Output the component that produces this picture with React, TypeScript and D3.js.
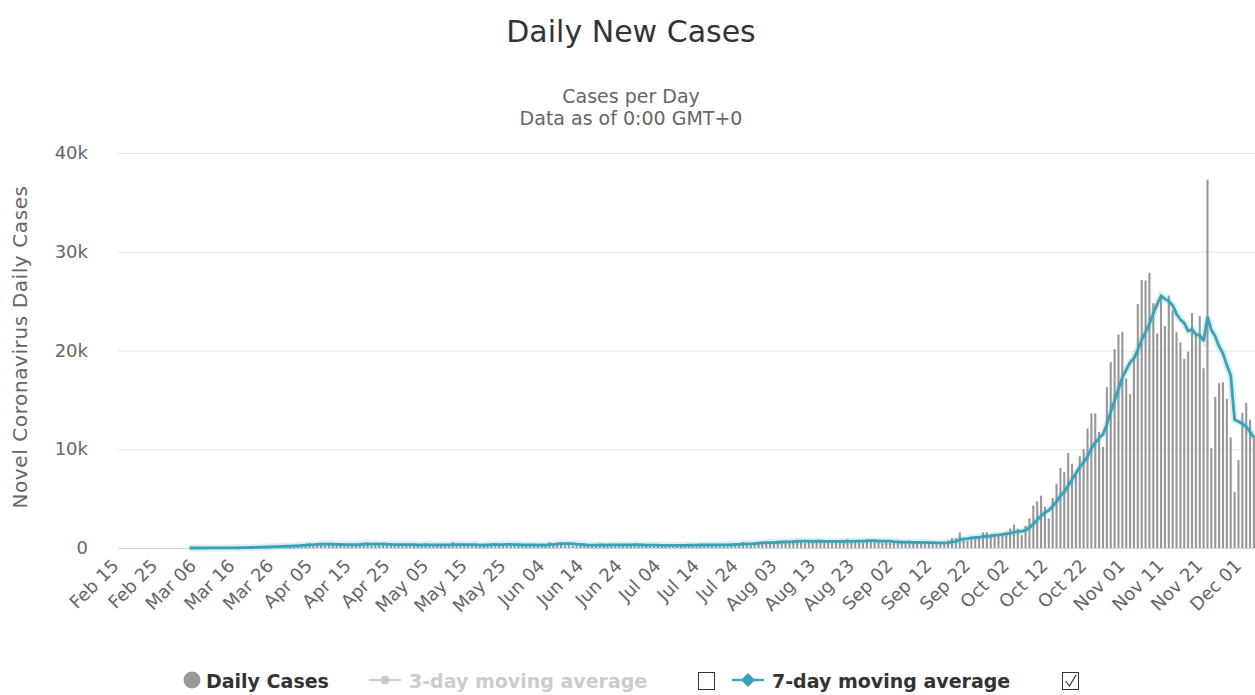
import * as d3 from "d3";

// Daily new cases (first report Mar 04)
const firstDay = new Date(2020, 2, 4);
const marchCases = [1, 0, 4, 0, 6, 6, 5, 9, 20, 17, 36, 8, 27, 52, 49, 70, 111, 111, 98, 115, 152, 150, 170, 249, 224, 193, 256, 243];
const aprilCases = [244, 392, 437, 475, 311, 435, 357, 370, 380, 336, 318, 268, 401, 260, 380, 336, 461, 545, 545, 263, 313, 355, 381, 300, 460, 316, 263, 370, 300, 381];
const mayCases = [292, 197, 422, 326, 325, 307, 270, 337, 253, 330, 595, 317, 334, 264, 253, 354, 325, 186, 401, 332, 486, 441, 253, 342, 275, 395, 230, 416, 208, 285, 380];
const juneCases = [230, 292, 361, 259, 576, 454, 575, 599, 282, 334, 260, 298, 265, 260, 283, 374, 345, 309, 320, 218, 300, 359, 374, 315, 299, 311, 376, 260, 246, 240];
const julyCases = [371, 300, 266, 242, 262, 193, 235, 299, 303, 358, 299, 290, 308, 266, 299, 335, 331, 355, 284, 348, 324, 418, 417, 451, 584, 443, 337, 512, 615, 657, 658];
const augustCases = [624, 447, 575, 680, 726, 640, 809, 843, 619, 548, 596, 639, 729, 832, 711, 591, 548, 587, 640, 691, 903, 794, 671, 581, 575, 887, 751, 900, 581, 543, 605];
const septemberCases = [550, 597, 579, 633, 601, 530, 418, 607, 598, 568, 508, 555, 377, 460, 600, 757, 1002, 1002, 1587, 1002, 746, 1136, 971, 1136, 1587, 1584, 1350, 1306, 1326, 1300];
const octoberCases = [1552, 1967, 2367, 1934, 1306, 2236, 3003, 4280, 4739, 5300, 4178, 2997, 5068, 6526, 8099, 7705, 9622, 8536, 7482, 9291, 10040, 12107, 13632, 13628, 11742, 10241, 16300, 18820, 20156, 21629, 21897];
const novemberCases = [17171, 15578, 19364, 24692, 27143, 27086, 27875, 24785, 21713, 25484, 22464, 25571, 24051, 21854, 20816, 19152, 19883, 23800, 21800, 23500, 18200, 37300, 10100, 15300, 16700, 16800, 15100, 11200, 5700, 8900];
const decemberCases = [13700, 14700, 13000, 11200];

const tickLabels = [
  "Feb 15", "Feb 25", "Mar 06", "Mar 16", "Mar 26", "Apr 05", "Apr 15", "Apr 25",
  "May 05", "May 15", "May 25", "Jun 04", "Jun 14", "Jun 24", "Jul 04", "Jul 14",
  "Jul 24", "Aug 03", "Aug 13", "Aug 23", "Sep 02", "Sep 12", "Sep 22", "Oct 02",
  "Oct 12", "Oct 22", "Nov 01", "Nov 11", "Nov 21", "Dec 01",
];
const yTicks = [0, 10000, 20000, 30000, 40000];

const font = "'DejaVu Sans', sans-serif";
const barColor = "#999999";
const lineColor = "#3aa2b7";

export default function App() {
  const width = 1255;
  const height = 695;
  const plotLeft = 118;
  const plotTop = 153;
  const plotBottom = 548;
  const dayWidth = 3.87;

  const key = d3.timeFormat("%Y-%m-%d");
  const label = d3.timeFormat("%b %d");
  const days = d3.timeDay.range(new Date(2020, 1, 15), new Date(2020, 11, 5));

  const values = [
    ...marchCases, ...aprilCases, ...mayCases, ...juneCases, ...julyCases,
    ...augustCases, ...septemberCases, ...octoberCases, ...novemberCases, ...decemberCases,
  ];
  const daily = values.map((v, i) => ({ date: d3.timeDay.offset(firstDay, i), value: v }));
  // trailing 7-day mean of the daily series
  const avg7 = daily.map((d, i) => ({
    date: d.date,
    value: d3.mean(daily.slice(Math.max(0, i - 6), i + 1), (p) => p.value)!,
  }));

  const x = d3
    .scaleBand()
    .domain(days.map(key))
    .range([plotLeft, plotLeft + days.length * dayWidth])
    .paddingInner(0.45)
    .paddingOuter(0.2);
  const cx = (date: Date) => x(key(date))! + x.bandwidth() / 2;

  const y = d3.scaleLinear().domain([0, 40000]).range([plotBottom, plotTop]);

  const line = d3
    .line<{ date: Date; value: number }>()
    .x((d) => cx(d.date))
    .y((d) => y(d.value))
    .curve(d3.curveLinear);

  const yFormat = (v: number) => (v === 0 ? "0" : `${v / 1000}k`);

  return (
    <svg
      width={width}
      height={height}
      style={{ position: "absolute", left: 0, top: 0, background: "#fff" }}
      fontFamily={font}
    >
      {/* Titles */}
      <text x={631} y={42} textAnchor="middle" fontSize={30} fill="#333">
        Daily New Cases
      </text>
      <text x={631} y={103} textAnchor="middle" fontSize={19} fill="#666">
        Cases per Day
      </text>
      <text x={631} y={125} textAnchor="middle" fontSize={19} fill="#666">
        Data as of 0:00 GMT+0
      </text>

      {/* Y grid + labels */}
      {yTicks.map((t) => (
        <g key={t}>
          <line
            x1={plotLeft}
            x2={width}
            y1={y(t) + 0.5}
            y2={y(t) + 0.5}
            stroke={t === 0 ? "#ccd6eb" : "#e6e6e6"}
          />
          <text x={88} y={y(t) + 6} textAnchor="end" fontSize={18} fill="#666">
            {yFormat(t)}
          </text>
        </g>
      ))}
      <text
        transform={`translate(27, 347) rotate(-90)`}
        textAnchor="middle"
        fontSize={20}
        fill="#666"
        letterSpacing={0.6}
      >
        Novel Coronavirus Daily Cases
      </text>

      {/* Bars */}
      {daily.map((d) => (
        <rect
          key={key(d.date)}
          x={x(key(d.date))}
          y={y(d.value)}
          width={x.bandwidth()}
          height={plotBottom - y(d.value)}
          fill={barColor}
        />
      ))}

      {/* 7-day average */}
      <path d={line(avg7)!} fill="none" stroke={lineColor} strokeOpacity={0.18} strokeWidth={7} />
      <path d={line(avg7)!} fill="none" stroke={lineColor} strokeWidth={2.8} strokeLinejoin="round" />

      {/* X labels */}
      {days
        .filter((d) => tickLabels.includes(label(d)))
        .map((d) => (
          <text
            key={key(d)}
            transform={`translate(${cx(d)}, 567) rotate(-45)`}
            textAnchor="end"
            fontSize={18}
            fill="#666"
          >
            {label(d)}
          </text>
        ))}

      {/* Legend */}
      <g fontSize={19} fontWeight="bold">
        <circle cx={192} cy={680} r={8.5} fill={barColor} />
        <text x={206} y={688} fill="#333">Daily Cases</text>

        <line x1={369} x2={401} y1={680} y2={680} stroke="#ccc" strokeWidth={2} />
        <circle cx={385} cy={680} r={4.5} fill="#ccc" />
        <text x={409} y={688} fill="#ccc">3-day moving average</text>
        <rect x={698.5} y={672.5} width={16} height={17} fill="#fff" stroke="#333" />

        <line x1={732} x2={764} y1={680} y2={680} stroke={lineColor} strokeWidth={2.5} />
        <path d="M748,673 L755,680 L748,687 L741,680 Z" fill={lineColor} />
        <text x={772} y={688} fill="#333">7-day moving average</text>
        <rect x={1062.5} y={672.5} width={16} height={17} fill="#fff" stroke="#333" />
        <path d="M1065.5,681 L1069.5,686 L1076,675" fill="none" stroke="#333" strokeWidth={1.2} />
      </g>
    </svg>
  );
}
